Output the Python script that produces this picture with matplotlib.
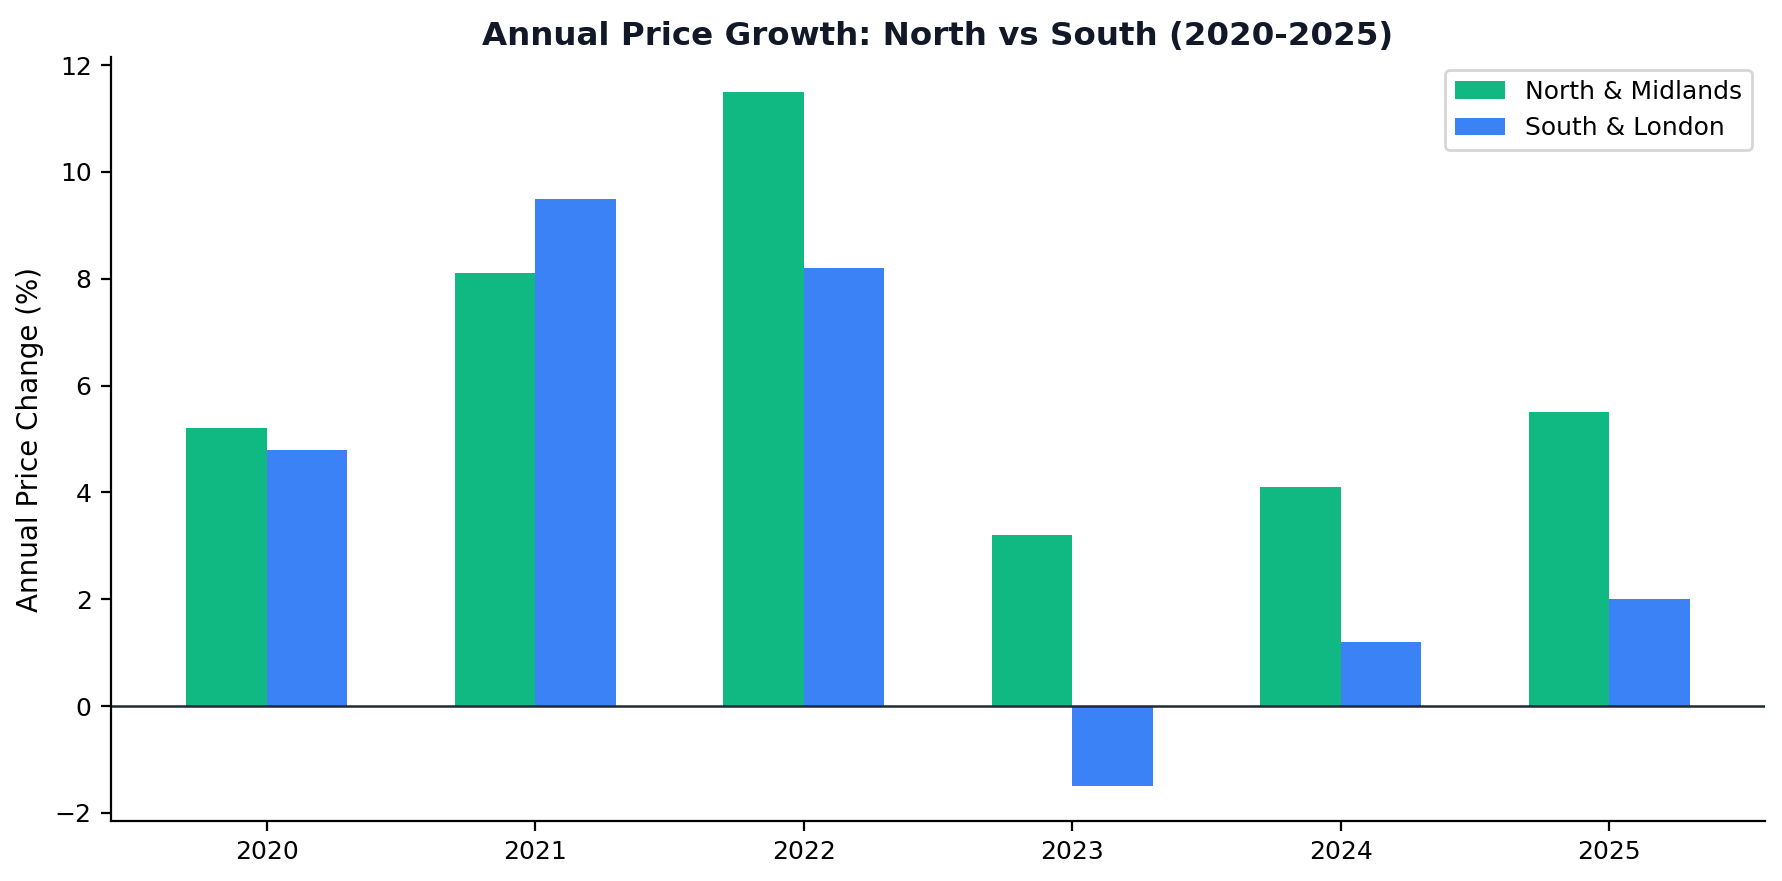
import matplotlib
matplotlib.use("Agg")
import matplotlib.pyplot as plt
import numpy as np

years = ["2020", "2021", "2022", "2023", "2024", "2025"]
north = [5.2, 8.1, 11.5, 3.2, 4.1, 5.5]
south = [4.8, 9.5, 8.2, -1.5, 1.2, 2.0]

fig = plt.figure(figsize=(1783 / 200, 881 / 200), dpi=200)
ax = fig.add_axes([0.0623, 0.0681, 0.9276, 0.8672])

x = np.arange(len(years))
w = 0.3
ax.bar(x - w / 2, north, w, color="#10b981", label="North & Midlands")
ax.bar(x + w / 2, south, w, color="#3b82f6", label="South & London")
ax.axhline(0, color="#1f2937", linewidth=0.9)

ax.set_xticks(x)
ax.set_xticklabels(years)
ax.tick_params(labelsize=9)
ax.set_ylabel("Annual Price Change (%)", fontsize=10)
ax.set_title("Annual Price Growth: North vs South (2020-2025)", fontsize=11.7,
             fontweight="bold", color="#111827", pad=4.5)
ax.spines["top"].set_visible(False)
ax.spines["right"].set_visible(False)
ax.legend(loc="upper right", fontsize=9)

fig.savefig("out.png", dpi=200)
